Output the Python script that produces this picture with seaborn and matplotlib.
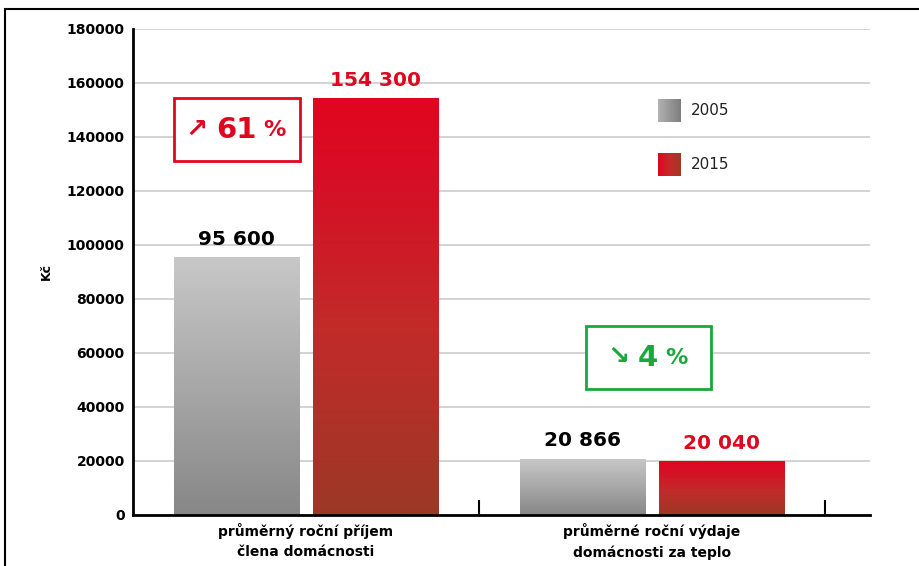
import numpy as np
import pandas as pd
import matplotlib
matplotlib.use("Agg")
import matplotlib.pyplot as plt
from matplotlib.colors import LinearSegmentedColormap
from matplotlib.patches import Rectangle
import seaborn as sns

# ---- data ----
categories = ["průměrný roční příjem\nčlena domácnosti",
              "průměrné roční výdaje\ndomácnosti za teplo"]
years = ["2005", "2015"]
values_2005 = [95600, 20866]
values_2015 = [154300, 20040]
labels_2005 = ["95 600", "20 866"]
labels_2015 = ["154 300", "20 040"]
change_labels = ["61 %", "4 %"]
change_arrows = ["↗", "↘"]
yticks = [0, 20000, 40000, 60000, 80000, 100000, 120000, 140000, 160000, 180000]

RED = "#e0061f"
GREEN = "#19a83c"

df = pd.DataFrame({
    "cat": categories * 2,
    "year": [years[0]] * 2 + [years[1]] * 2,
    "value": values_2005 + values_2015,
})

sns.set_style("white")
plt.rcParams["font.family"] = ["DejaVu Sans"]

W, H = 919, 566
fig = plt.figure(figsize=(W / 100, H / 100), dpi=100)
ax = fig.add_axes([133 / W, 1 - 515 / H, (870 - 133) / W, (515 - 29) / H])

sns.barplot(data=df, x="cat", y="value", hue="year", hue_order=years,
            order=categories, width=0.8035, gap=0.094, legend=False,
            palette=["#aaaaaa", RED], ax=ax, errorbar=None)

cmap_gray = LinearSegmentedColormap.from_list("g", ["#878787", "#a8a8a8", "#c8c8c8"])
cmap_red = LinearSegmentedColormap.from_list(
    "r", [(0, "#9c3826"), (0.45, "#c22b29"), (0.8, "#d60f26"), (1, "#e0061f")])

patches = list(ax.patches)
grad = np.linspace(0, 1, 256).reshape(-1, 1)
for i, p in enumerate(patches):
    x0, y0 = p.get_x(), p.get_y()
    w, h = p.get_width(), p.get_height()
    cm = cmap_gray if i < len(categories) else cmap_red
    im = ax.imshow(grad, cmap=cm, origin="lower", aspect="auto",
                   extent=(x0, x0 + w, y0, y0 + h), zorder=2)
    im.set_clip_path(p)
    p.set_facecolor("none")
    p.set_edgecolor("none")

ax.set_xlim(-0.5, 1.63)
ax.set_ylim(0, 180000)
ax.set_yticks(yticks)
ax.set_yticklabels([str(v) for v in yticks], fontsize=10, fontweight="bold", color="black")
ax.yaxis.grid(True, color="#cccccc", linewidth=1.2)
ax.set_axisbelow(True)
ax.tick_params(axis="y", length=0, pad=6)
ax.set_xticks([0, 1])
ax.set_xticklabels(categories, fontsize=10, fontweight="bold", linespacing=1.5, color="black")
ax.set_xticks([0.5, 1.5], minor=True)
ax.tick_params(axis="x", which="major", length=0, pad=6, bottom=False)
ax.tick_params(axis="x", which="minor", direction="in", length=11, width=1.5,
               color="black", bottom=True)
ax.set_xlabel("")
ax.set_ylabel("Kč", fontsize=9, fontweight="bold", labelpad=10, color="black")
for s in ["top", "right"]:
    ax.spines[s].set_visible(False)
for s in ["left", "bottom"]:
    ax.spines[s].set_color("black")
    ax.spines[s].set_linewidth(2)

# value labels
for i in range(len(categories)):
    p = patches[i]
    ax.annotate(labels_2005[i], (p.get_x() + p.get_width() / 2, p.get_height()),
                xytext=(0, 6), textcoords="offset points", ha="center", va="bottom",
                fontsize=14.5, fontweight="bold", color="black")
    p = patches[i + len(categories)]
    ax.annotate(labels_2015[i], (p.get_x() + p.get_width() / 2, p.get_height()),
                xytext=(0, 6), textcoords="offset points", ha="center", va="bottom",
                fontsize=14.5, fontweight="bold", color=RED)

# change boxes (pixel coords -> figure fraction)
def fx(px):
    return px / W
def fy(py):
    return 1 - py / H

boxes = [(174, 98, 300, 161, RED), (586, 326, 711, 389, GREEN)]
pos = [(196, 236, 274), (618, 648, 676)]
for (x0, y0, x1, y1, col), arr, lab, (ax_, nx, px) in zip(boxes, change_arrows, change_labels, pos):
    fig.add_artist(Rectangle((fx(x0), fy(y1)), fx(x1) - fx(x0), fy(y0) - fy(y1),
                             transform=fig.transFigure, facecolor="white",
                             edgecolor=col, linewidth=2, zorder=5))
    num, pct = lab.split(" ")
    cy = fy((y0 + y1) / 2)
    fig.text(fx(ax_), cy, arr, ha="center", va="center",
             fontsize=19, fontweight="bold", color=col, zorder=6)
    fig.text(fx(nx), cy, num, ha="center", va="center",
             fontsize=21, fontweight="bold", color=col, zorder=6)
    fig.text(fx(px), cy, pct, ha="center", va="center",
             fontsize=16, fontweight="bold", color=col, zorder=6)

# legend swatches
hgrad = np.linspace(0, 1, 256).reshape(1, -1)
cmap_lg = LinearSegmentedColormap.from_list("lg", ["#b2b2b2", "#7d7d7d"])
cmap_lr = LinearSegmentedColormap.from_list("lr", ["#e0061f", "#c42a28", "#a23827"])
for (ty, cm, yr) in [(99, cmap_lg, years[0]), (153, cmap_lr, years[1])]:
    lax = fig.add_axes([fx(658), fy(ty + 23), 23 / W, 23 / H])
    lax.imshow(hgrad, cmap=cm, aspect="auto")
    lax.axis("off")
    fig.text(fx(691), fy(ty + 11.5), yr, ha="left", va="center", fontsize=11, color="#222222")

# outer frame
fig.add_artist(Rectangle((fx(5), -0.1), 1.2, fy(9) + 0.1, transform=fig.transFigure,
                         facecolor="none", edgecolor="black", linewidth=1.5, zorder=0))

fig.savefig("out.png", dpi=100)
